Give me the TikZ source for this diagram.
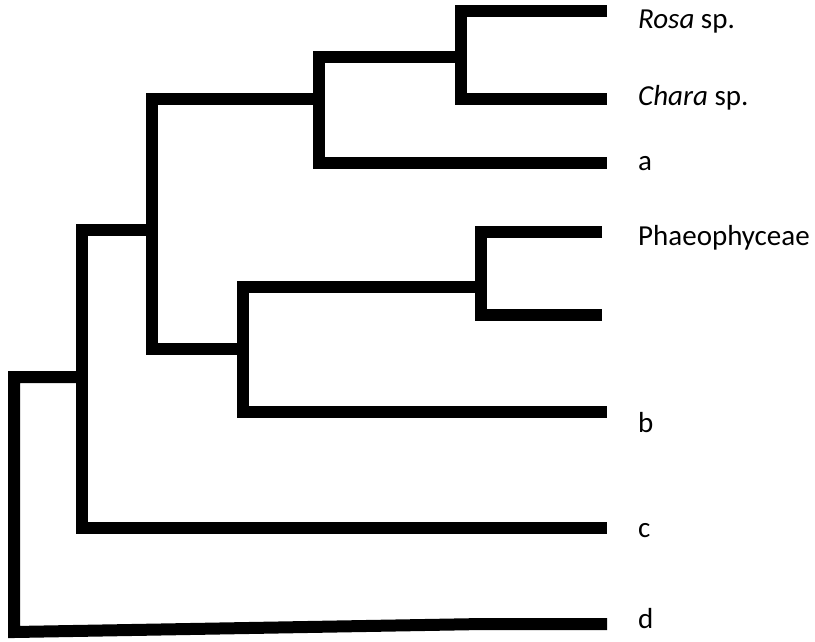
\documentclass[tikz,border=0pt]{standalone}
\usepackage{fontspec}
\setmainfont{Carlito}
\usetikzlibrary{positioning}
\tikzset{
  branch/.style={line width=12pt, draw=black, line join=miter},
  taxon/.style={anchor=base west, inner sep=0pt, text=black,
                font=\fontsize{29}{34}\selectfont},
}

\begin{document}
\begin{tikzpicture}[x=1pt, y=-1pt]
    \useasboundingbox (0,0) rectangle (815,641);
    % leaf tips
    \coordinate (rosa) at (607,11);
    \coordinate (chara) at (607,99);
    \coordinate (a) at (607,163);
    \coordinate (phaeo) at (602,232);
    \coordinate (blank) at (602,315);
    \coordinate (b) at (607,412);
    \coordinate (c) at (607,528);
    \coordinate (d) at (607,624);
    % inner nodes
    \coordinate (nrc) at (461,57);
    \coordinate (na) at (319,99);
    \coordinate (np) at (481,287);
    \coordinate (nb) at (243,349);
    \coordinate (n3) at (152,230);
    \coordinate (n2) at (82,377);
    \coordinate (root) at (14,632);
    \coordinate (dbend) at (483,624);
    % taxa
    \node[taxon] (lrosa) at (638,28) {\textit{Rosa} sp.};
    \node[taxon] (lchara) at (638,105) {\textit{Chara} sp.};
    \node[taxon] (la) at (638,170) {a};
    \node[taxon] (lphaeo) at (638,245) {Phaeophyceae};
    \node[taxon] (lb) at (638,432) {b};
    \node[taxon] (lc) at (638,537) {c};
    \node[taxon] (ld) at (638,628) {d};
    % branches
    \draw[branch] (rosa) -| (nrc) |- (chara);
    \draw[branch] (nrc) -| (na) |- (a);
    \draw[branch] (phaeo) -| (np) |- (blank);
    \draw[branch] (np) -| (nb) |- (b);
    \draw[branch] (na) -| (n3) |- (nb);
    \draw[branch] (n3) -| (n2) |- (c);
    \draw[branch] (n2) -| (root) -- (dbend) -- (d);
  \end{tikzpicture}
\end{document}
